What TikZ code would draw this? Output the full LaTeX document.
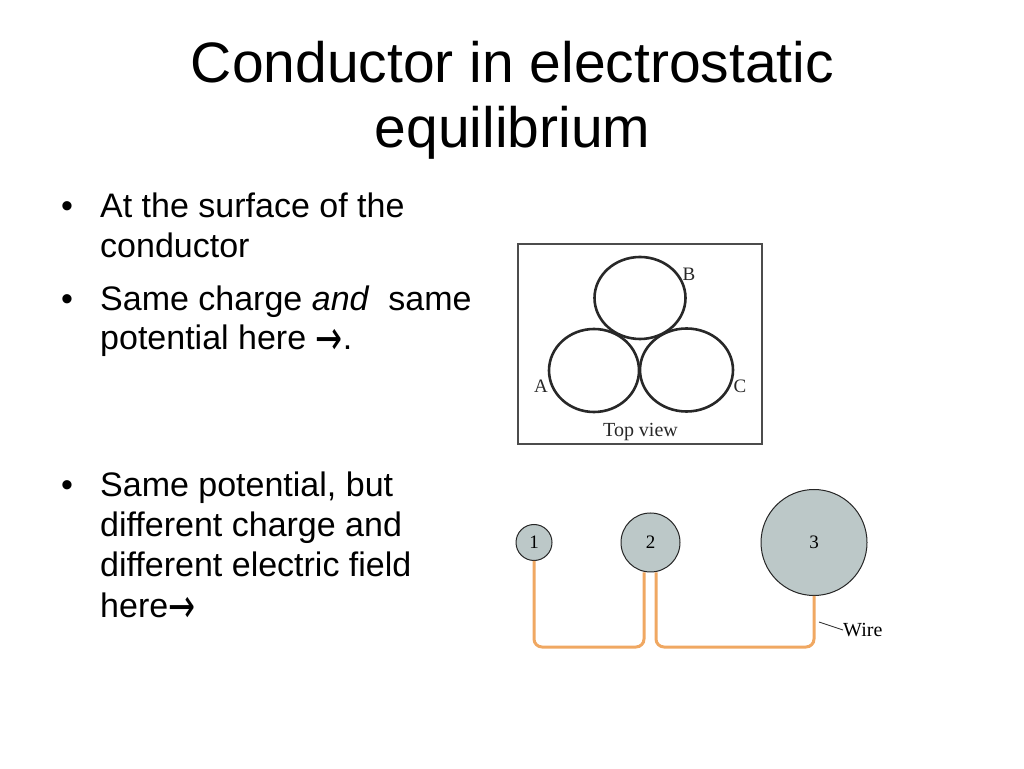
\documentclass[tikz,border=0pt]{standalone}
\usepackage{fontspec}
\setmainfont{Liberation Sans}
\newfontfamily\figfont{Liberation Serif}
\newfontfamily\arrowfont{DejaVu Sans}
\usetikzlibrary{positioning}

\definecolor{sphere}{RGB}{188,200,200}
\definecolor{wireorange}{RGB}{240,168,98}
\definecolor{scan}{RGB}{40,40,40}

\tikzset{
    titleline/.style={anchor=base, inner sep=0pt, font=\fontsize{57}{65}\selectfont},
    bulletline/.style={anchor=base west, inner sep=0pt, font=\fontsize{34}{40}\selectfont},
    ring/.style={draw=scan, line width=2.6pt},
    scanlabel/.style={inner sep=0pt, text=scan, font=\figfont\fontsize{19}{20}\selectfont},
    ball/.style={circle, draw=black!85, fill=sphere, line width=1pt, inner sep=0pt,
        font=\figfont\fontsize{19}{20}\selectfont},
    wire/.style={draw=wireorange, line width=3pt, rounded corners=8pt}
}

% right arrow as in the slide
\newcommand{\rarr}{\raisebox{-5pt}{\scalebox{0.95}[1.4]{\arrowfont\fontsize{34}{40}\selectfont\symbol{"2192}}}}

\begin{document}
\begin{tikzpicture}[x=1pt, y=1pt]
    \useasboundingbox (0,0) rectangle (1024,768);

    % title
    \node[titleline] (title1) at (512.5,685) {Conductor in electrostatic};
    \node[titleline] (title2) at (512.5,620) {equilibrium};

    % bullets
    \node[bulletline] (dot1) at (61,550) {\textbullet};
    \node[bulletline] (l1) at (100,550) {At the surface of the};
    \node[bulletline] (l2) at (100,510) {conductor};
    \node[bulletline] (dot2) at (61,457) {\textbullet};
    \node[bulletline] (l3) at (100,457) {Same charge \textit{and}~ same};
    \node[bulletline] (l4) at (100,418) {potential here \rarr.};
    \node[bulletline] (dot3) at (61,271) {\textbullet};
    \node[bulletline] (l5) at (100,271) {Same potential, but};
    \node[bulletline] (l6) at (100,231) {different charge and};
    \node[bulletline] (l7) at (100,191) {different electric field};
    \node[bulletline] (l8) at (100,150) {here\rarr};

    % top view
    \draw[draw=black!70, line width=1.2pt, fill=white] (518,524) rectangle (762,324);
    \draw[ring] (640,470) ellipse [x radius=45.5, y radius=41];
    \draw[ring] (594,397.5) ellipse [x radius=45, y radius=41.5];
    \draw[ring] (686.5,398) ellipse [x radius=46.5, y radius=41.5];
    \node[scanlabel] (labB) at (689,494) {B};
    \node[scanlabel] (labA) at (541,382) {A};
    \node[scanlabel] (labC) at (740,382) {C};
    \node[scanlabel, anchor=base, font=\figfont\fontsize{20}{22}\selectfont] (topview) at (640.5,331) {Top view};

    % spheres joined by wires
    \node[ball, minimum size=36pt] (s1) at (534,225.5) {1};
    \node[ball, minimum size=59pt] (s2) at (650.5,225.5) {2};
    \node[ball, minimum size=106pt] (s3) at (814,225.5) {3};
    \coordinate (c1) at (644,121);
    \coordinate (c2) at (656,121);
    \draw[wire] (s1.south) |- (c1) -- ([xshift=-6.5pt]s2.south);
    \draw[wire] ([xshift=5.5pt]s2.south) -- (c2) -| (s3.south);
    \node[inner sep=0pt, anchor=west, font=\figfont\fontsize{20}{22}\selectfont] (wirelab) at (843,138) {Wire};
    \draw[black!80, line width=0.8pt] (819,146) -- (wirelab.west);
\end{tikzpicture}
\end{document}
